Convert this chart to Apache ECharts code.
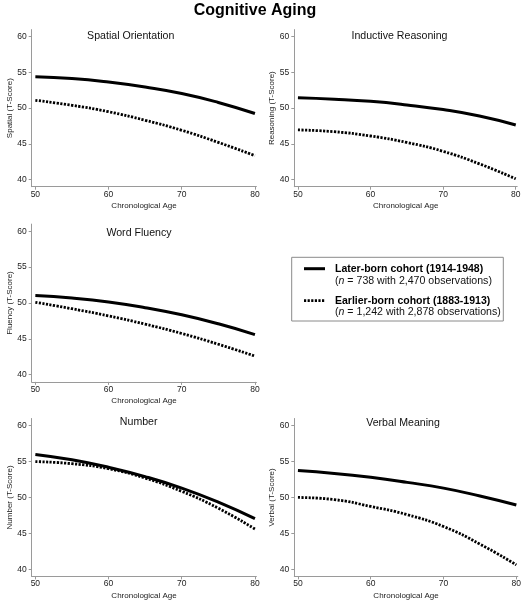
<!DOCTYPE html>
<html><head><meta charset="utf-8">
<script src="https://cdn.jsdelivr.net/npm/echarts@6/dist/echarts.min.js"></script>
<style>html,body{margin:0;padding:0;background:#fff}#c{width:526px;height:601px}</style>
</head><body><div id="c"></div>
<script>
// ---- data ----
const ages = [50, 55, 60, 65, 70, 75, 80];
const xTicks = [50, 60, 70, 80];
const yTicks = [40, 45, 50, 55, 60];
const panelTitles = ['Spatial Orientation', 'Inductive Reasoning', 'Word Fluency', 'Number', 'Verbal Meaning'];
const yNames = ['Spatial (T-Score)', 'Reasoning (T-Score)', 'Fluency (T-Score)', 'Number (T-Score)', 'Verbal (T-Score)'];
const xName = 'Chronological Age';
const laterSpatial   = [54.4, 54.15, 53.65, 52.95, 52.05, 50.8, 49.25];
const earlierSpatial = [51.1, 50.4, 49.5, 48.3, 46.9, 45.2, 43.35];
const laterReasoning   = [51.45, 51.25, 50.95, 50.45, 49.8, 48.9, 47.65];
const earlierReasoning = [46.95, 46.7, 46.1, 45.2, 43.95, 42.2, 40.1];
const laterFluency   = [51.05, 50.7, 50.15, 49.35, 48.35, 47.1, 45.6];
const earlierFluency = [50.1, 49.2, 48.2, 47.05, 45.75, 44.25, 42.6];
const laterNumber   = [56.0, 55.25, 54.2, 52.9, 51.3, 49.35, 47.05];
const earlierNumber = [55.0, 54.7, 54.0, 52.7, 50.85, 48.5, 45.6];
const laterVerbal   = [53.75, 53.35, 52.8, 52.1, 51.3, 50.2, 48.95];
const earlierVerbal = [50.0, 49.7, 48.75, 47.6, 45.95, 43.5, 40.6];
const laterName = 'Later-born cohort (1914-1948)';
const laterNote = ['(', 'n', ' = 738 with 2,470 observations)'];
const earlierName = 'Earlier-born cohort (1883-1913)';
const earlierNote = ['(', 'n', ' = 1,242 with 2,878 observations)'];
const mainTitle = 'Cognitive Aging';

const laterSets = [laterSpatial, laterReasoning, laterFluency, laterNumber, laterVerbal];
const earlierSets = [earlierSpatial, earlierReasoning, earlierFluency, earlierNumber, earlierVerbal];

// ---- layout ----
const FONT = '"Liberation Sans", Arial, Helvetica, sans-serif';
const grids = [
  {left: 31.7, top: 29.6, width: 224.7, height: 157.1},
  {left: 294.3, top: 29.6, width: 222.9, height: 157.1},
  {left: 31.7, top: 224.1, width: 224.7, height: 157.8},
  {left: 31.7, top: 418.5, width: 224.7, height: 157.9},
  {left: 294.3, top: 418.5, width: 223.5, height: 157.9}
];
const titlePos = [[130.7, 36], [399.5, 36], [139, 233.3], [138.7, 422.3], [403, 422.7]];

const axisColor = '#9a9a9a';
const xAxes = [], yAxes = [], series = [];
grids.forEach((g, i) => {
  xAxes.push({
    type: 'value', gridIndex: i, min: 49.5, max: 80.2,
    name: xName, nameLocation: 'middle', nameGap: 15,
    nameTextStyle: {fontSize: 8, color: '#222', fontFamily: FONT},
    axisLine: {show: true, lineStyle: {color: axisColor, width: 1}},
    axisTick: {show: true, length: 3, lineStyle: {color: axisColor}, customValues: xTicks},
    axisLabel: {fontSize: 8.5, color: '#222', fontFamily: FONT, margin: 3, customValues: xTicks},
    splitLine: {show: false}
  });
  yAxes.push({
    type: 'value', gridIndex: i, min: 39, max: 61,
    name: yNames[i], nameLocation: 'middle', nameGap: 17, nameRotate: 90,
    nameTextStyle: {fontSize: 8, color: '#222', fontFamily: FONT},
    axisLine: {show: true, lineStyle: {color: axisColor, width: 1}},
    axisTick: {show: true, length: 3, lineStyle: {color: axisColor}, customValues: yTicks},
    axisLabel: {fontSize: 8.5, color: '#222', fontFamily: FONT, margin: 5, customValues: yTicks},
    splitLine: {show: false}
  });
  series.push({
    type: 'line', name: laterName, xAxisIndex: i, yAxisIndex: i, smooth: true,
    showSymbol: false, silent: true,
    data: ages.map((a, k) => [a, laterSets[i][k]]),
    lineStyle: {color: '#000', width: 3}
  });
  series.push({
    type: 'line', name: earlierName, xAxisIndex: i, yAxisIndex: i, smooth: true,
    showSymbol: false, silent: true,
    data: ages.map((a, k) => [a, earlierSets[i][k]]),
    lineStyle: {color: '#000', width: 2.8, type: [2.2, 1.4]}
  });
});

const graphics = [];
graphics.push({type: 'text', x: 255, y: 11, style: {text: mainTitle, font: 'bold 16px ' + FONT, fill: '#000', align: 'center', verticalAlign: 'middle'}});
panelTitles.forEach((t, i) => {
  graphics.push({type: 'text', x: titlePos[i][0], y: titlePos[i][1], style: {text: t, font: '10.6px ' + FONT, fill: '#111', align: 'center', verticalAlign: 'middle'}});
});
// legend box
graphics.push({type: 'rect', shape: {x: 291.7, y: 257.3, width: 211.6, height: 63.7}, style: {fill: '#fff', stroke: '#8a8a8a', lineWidth: 1}});
graphics.push({type: 'line', shape: {x1: 304, y1: 268.7, x2: 325, y2: 268.7}, style: {stroke: '#000', lineWidth: 3}});
graphics.push({type: 'line', shape: {x1: 304, y1: 300.7, x2: 325, y2: 300.7}, style: {stroke: '#000', lineWidth: 2.8, lineDash: [2.2, 1.4]}});
const richStyle = {
  r: {font: '10.6px ' + FONT, fill: '#111'},
  it: {font: 'italic 10.6px ' + FONT, fill: '#111'}
};
graphics.push({type: 'text', x: 335, y: 268.7, style: {text: laterName, font: 'bold 10.5px ' + FONT, fill: '#000', verticalAlign: 'middle'}});
graphics.push({type: 'text', x: 335, y: 281.2, style: {text: '{r|' + laterNote[0] + '}{it|' + laterNote[1] + '}{r|' + laterNote[2] + '}', rich: richStyle, verticalAlign: 'middle'}});
graphics.push({type: 'text', x: 335, y: 300.7, style: {text: earlierName, font: 'bold 10.5px ' + FONT, fill: '#000', verticalAlign: 'middle'}});
graphics.push({type: 'text', x: 335, y: 311.9, style: {text: '{r|' + earlierNote[0] + '}{it|' + earlierNote[1] + '}{r|' + earlierNote[2] + '}', rich: richStyle, verticalAlign: 'middle'}});

const chart = echarts.init(document.getElementById('c'), null, {renderer: 'canvas'});
chart.setOption({
  animation: false,
  backgroundColor: '#fff',
  textStyle: {fontFamily: FONT},
  grid: grids.map(g => Object.assign({containLabel: false}, g)),
  xAxis: xAxes,
  yAxis: yAxes,
  series: series,
  graphic: graphics
});
</script></body></html>
